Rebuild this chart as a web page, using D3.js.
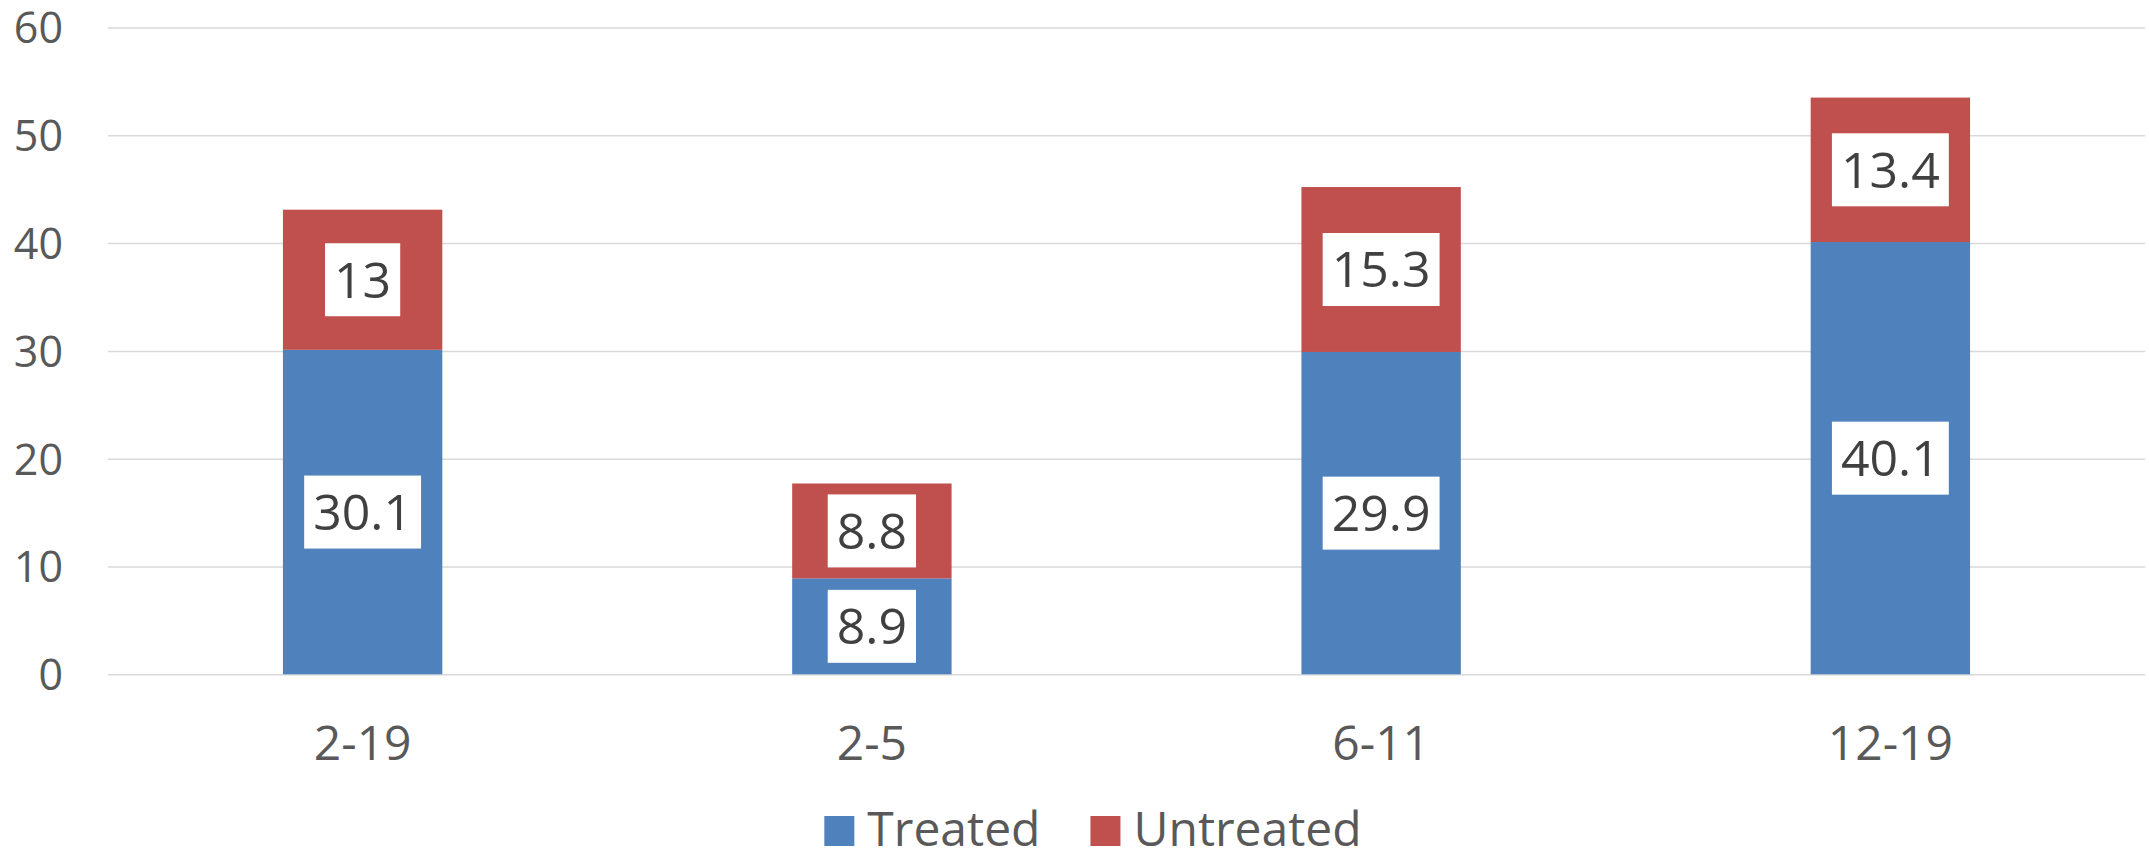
<!DOCTYPE html>
<html>
<head>
  <meta charset="utf-8">
  <title>Treated vs Untreated</title>
  <script src="https://cdnjs.cloudflare.com/ajax/libs/d3/7.8.5/d3.min.js"></script>
  <style>
    html, body { margin: 0; padding: 0; background: #fff; }
    svg text { font-family: "Open Sans", "Noto Sans", sans-serif; }
  </style>
</head>
<body>
<div id="chart"></div>
<script>
// data
var ageGroups = ["2-19", "2-5", "6-11", "12-19"];
var treated   = [30.1, 8.9, 29.9, 40.1];
var untreated = [13, 8.8, 15.3, 13.4];
var seriesNames = ["Treated", "Untreated"];
var yTicks = [0, 10, 20, 30, 40, 50, 60];

var W = 2149, H = 851;
var margin = {top: 27.5, right: 4, bottom: 176.7, left: 108};
var width = W - margin.left - margin.right,
    height = H - margin.top - margin.bottom;

var colors = {Treated: "#4f81bd", Untreated: "#c0504d"};

var svg = d3.select("#chart").append("svg")
    .attr("width", W)
    .attr("height", H);

var g = svg.append("g")
    .attr("transform", "translate(" + margin.left + "," + margin.top + ")");

var x = d3.scaleBand()
    .domain(ageGroups)
    .range([0, width])
    .paddingInner(0.687)
    .paddingOuter(0.3435);

var y = d3.scaleLinear()
    .domain([0, 60])
    .range([height, 0]);

// gridlines + y labels
var yAxis = g.append("g")
    .call(d3.axisLeft(y).tickValues(yTicks).tickSize(-width).tickPadding(45));
yAxis.select(".domain").remove();
yAxis.selectAll(".tick line").attr("stroke", "#d9d9d9").attr("stroke-width", 1.5);
yAxis.selectAll(".tick text")
    .attr("fill", "#595959")
    .style("font-size", "43px")
    .attr("dy", "0.36em");

// x labels
var xAxis = g.append("g")
    .attr("transform", "translate(0," + height + ")")
    .call(d3.axisBottom(x).tickSize(0).tickPadding(0));
xAxis.select(".domain").remove();
xAxis.selectAll(".tick text")
    .attr("fill", "#595959")
    .style("font-size", "48px")
    .attr("dy", null)
    .attr("y", 760 - margin.top - height);

var rows = ageGroups.map(function (a, i) {
  return {group: a, Treated: treated[i], Untreated: untreated[i]};
});
var stacked = d3.stack().keys(seriesNames)(rows);

var layers = g.selectAll(".layer")
    .data(stacked)
    .enter().append("g")
    .attr("class", "layer")
    .attr("fill", d => colors[d.key]);

layers.selectAll("rect")
    .data(d => d)
    .enter().append("rect")
    .attr("x", d => x(d.data.group))
    .attr("y", d => y(d[1]))
    .attr("width", x.bandwidth())
    .attr("height", d => y(d[0]) - y(d[1]));

// data labels with white boxes
var labels = g.append("g");
stacked.forEach(function (layer) {
  layer.forEach(function (d) {
    var cx = x(d.data.group) + x.bandwidth() / 2;
    var cy = (y(d[0]) + y(d[1])) / 2;
    var lg = labels.append("g");
    var box = lg.append("rect").attr("fill", "#fff");
    var t = lg.append("text")
        .attr("x", cx)
        .attr("y", cy + 17.8)
        .attr("text-anchor", "middle")
        .attr("fill", "#404040")
        .style("font-size", "50px")
        .text(d.data[layer.key]);
    var tw = t.node().getComputedTextLength();
    box.attr("x", cx - tw / 2 - 9)
        .attr("y", cy - 36.5)
        .attr("width", tw + 18)
        .attr("height", 73);
  });
});

// legend
var legend = svg.append("g");
var lx = 0;
seriesNames.forEach(function (name, i) {
  var item = legend.append("g").attr("transform", "translate(" + lx + ",0)");
  item.append("rect")
      .attr("x", 0).attr("y", 816)
      .attr("width", 30).attr("height", 30)
      .attr("fill", colors[name]);
  var t = item.append("text")
      .attr("x", 43).attr("y", 846)
      .attr("fill", "#595959")
      .style("font-size", "48px")
      .text(name);
  lx += 43 + t.node().getComputedTextLength() + 50;
});
var lw = legend.node().getBBox().width;
legend.attr("transform", "translate(" + (1093 - lw / 2) + ",0)");
</script>
</body>
</html>
